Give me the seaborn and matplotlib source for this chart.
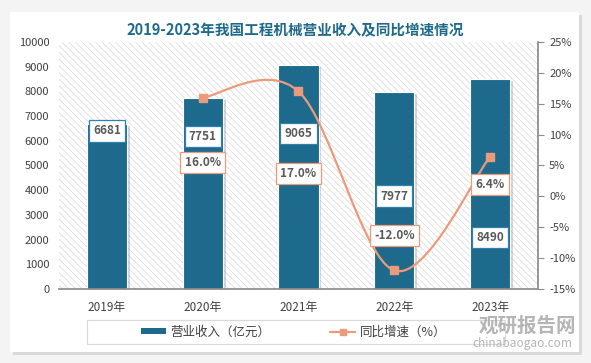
import matplotlib
matplotlib.use("Agg")
import matplotlib.pyplot as plt
import matplotlib.patheffects as pe
from matplotlib.path import Path
from matplotlib.patches import PathPatch, Rectangle, Patch
from matplotlib.lines import Line2D
import seaborn as sns
import pandas as pd

# chart data
years = ["2019年", "2020年", "2021年", "2022年", "2023年"]
revenue = [6681, 7751, 9065, 7977, 8490]
growth = [None, 16.0, 17.0, -12.0, 6.4]

BAR = "#1d6a8d"
LINE = "#eb9b7b"
TXT = "#404040"

sns.set_theme(style="white")
plt.rcParams['font.family'] = ['Noto Sans CJK SC', 'DejaVu Sans']
plt.rcParams['hatch.linewidth'] = 0.5
plt.rcParams['hatch.color'] = "#d6d6d6"

fig = plt.figure(figsize=(5.91, 3.63), dpi=100)
fig.patch.set_facecolor("#f4f4f4")

# white card with soft shadow
card = Rectangle((0.017, 0.03), 0.963, 0.937, transform=fig.transFigure,
                 facecolor="white", edgecolor="none", zorder=-5,
                 path_effects=[pe.SimplePatchShadow(offset=(2, -2), shadow_rgbFace="#c8c8c8", alpha=0.6),
                               pe.Normal()])
fig.patches.append(card)

ax = fig.add_axes([0.0998, 0.2039, 0.8105, 0.6804])
ax.patch.set_alpha(0)
df = pd.DataFrame({"year": years, "revenue": revenue})

# hatched plot background
ax.add_patch(Rectangle((0, 0), 1, 1, transform=ax.transAxes, facecolor="white",
                       hatch="\\\\\\\\\\", edgecolor="#d6d6d6", linewidth=0, zorder=0))

sns.barplot(data=df, x="year", y="revenue", color=BAR, width=0.42, saturation=1,
            edgecolor="white", linewidth=0.8, ax=ax, zorder=2)
for bar in ax.patches[1:]:
    bar.set_path_effects([pe.SimplePatchShadow(offset=(2, -1.5), shadow_rgbFace="#8a8a8a", alpha=0.35),
                          pe.Normal()])

ax.set_ylim(0, 10000)
ax.set_xlim(-0.5, 4.5)
ax.set_yticks(range(0, 10001, 1000))
ax.set_xlabel("")
ax.set_ylabel("")
for s in ["top", "right", "left"]:
    ax.spines[s].set_visible(False)
ax.spines["bottom"].set_color("#8c8c8c")
ax.tick_params(axis="y", length=0, labelsize=8, labelcolor=TXT, pad=7)
ax.tick_params(axis="x", length=0, labelsize=8.5, labelcolor=TXT, pad=9)

# growth line on the secondary axis (smooth, Excel-like)
ax2 = ax.twinx()
ax2.set_ylim(-15, 25)
ax2.set_yticks(range(-15, 26, 5))
ax2.set_yticklabels([f"{v}%" for v in range(-15, 26, 5)])
for s in ["top", "left", "bottom"]:
    ax2.spines[s].set_visible(False)
ax2.spines["right"].set_color("#8c8c8c")
ax2.tick_params(axis="y", length=4, width=0.8, color="#8c8c8c", labelsize=8,
                labelcolor=TXT, pad=4)

pts = [(i, g) for i, g in enumerate(growth) if g is not None]
verts = [pts[0]]
codes = [Path.MOVETO]
for k in range(len(pts) - 1):
    p0 = pts[k - 1] if k > 0 else pts[k]
    p1, p2 = pts[k], pts[k + 1]
    p3 = pts[k + 2] if k + 2 < len(pts) else pts[k + 1]
    c1 = (p1[0] + (p2[0] - p0[0]) / 6, p1[1] + (p2[1] - p0[1]) / 6)
    c2 = (p2[0] - (p3[0] - p1[0]) / 6, p2[1] - (p3[1] - p1[1]) / 6)
    verts += [c1, c2, p2]
    codes += [Path.CURVE4] * 3
ax2.add_patch(PathPatch(Path(verts, codes), facecolor="none", edgecolor=LINE, linewidth=1.6, zorder=3))
gx = [p[0] for p in pts]
gy = [p[1] for p in pts]
ax2.plot(gx, gy, linestyle="none", marker="s", markersize=5.5, color=LINE, zorder=4)

# data labels (offsets in points from the bar top / marker)
val_off = [-5, -28, -49, -75, -114]
for i, (v, off) in enumerate(zip(revenue, val_off)):
    ax.annotate(f"{v}", (i, v), xytext=(0, off), textcoords="offset points",
                ha="center", va="center", fontsize=8.5, fontweight="bold", color="#595959",
                bbox=dict(boxstyle="square,pad=0.35", fc="white", ec="#2f7fb0", lw=0.9), zorder=5)
pct_off = [None, -47, -59, 25, -20]
for i, (g, off) in enumerate(zip(growth, pct_off)):
    if g is None:
        continue
    ax2.annotate(f"{g:.1f}%", (i, g), xytext=(0, off), textcoords="offset points",
                 ha="center", va="center", fontsize=8.5, fontweight="bold", color="#595959",
                 bbox=dict(boxstyle="square,pad=0.35", fc="white", ec=LINE, lw=0.9), zorder=5)

fig.text(0.5, 0.917, "2019-2023年我国工程机械营业收入及同比增速情况", ha="center", va="center",
         fontsize=10.5, fontweight="bold", color="#1f6a8a")

# legend (own frame drawn separately so it can be wider than its content)
fig.patches.append(Rectangle((87 / 591, 1 - 344 / 363), (505 - 87) / 591, 24 / 363,
                             transform=fig.transFigure, facecolor="white",
                             edgecolor="#d9d9d9", linewidth=0.8, zorder=1))
handles = [Patch(facecolor=BAR, edgecolor="none"),
           Line2D([0], [0], color=LINE, lw=1.6, marker="s", markersize=5)]
leg = fig.legend(handles, ["营业收入（亿元）", "同比增速（%）"], loc="center",
                 bbox_to_anchor=(0.497, 1 - 332 / 363), ncol=2, frameon=False, fontsize=9,
                 handlelength=2.0, handleheight=0.45, handletextpad=0.35, columnspacing=4.8,
                 borderpad=0, borderaxespad=0)
leg.set_zorder(2)
for t in leg.get_texts():
    t.set_color(TXT)

# watermark
fig.text(0.893, 1 - 326 / 363, "观研报告网", ha="center", va="center", fontsize=14,
         fontweight="bold", color="#a8a8a8", alpha=0.85, zorder=3)
fig.text(0.883, 1 - 344 / 363, "chinabaogao.com", ha="center", va="center", fontsize=8.5,
         color="#a8a8a8", alpha=0.85, zorder=3)

fig.savefig("out.png", dpi=100, facecolor=fig.get_facecolor())
